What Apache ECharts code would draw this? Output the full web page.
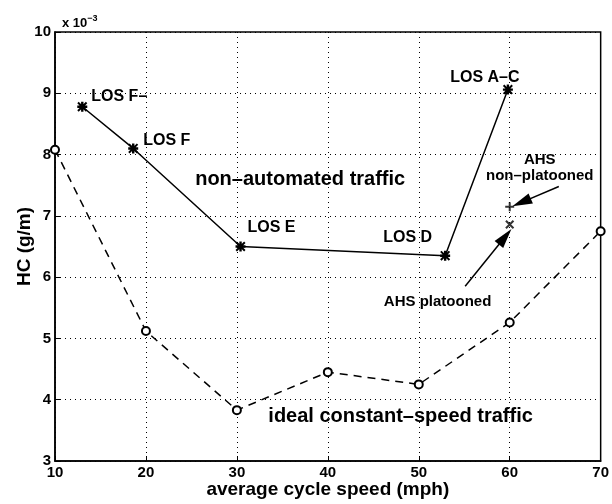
<!DOCTYPE html>
<html lang="en">
<head>
    <meta charset="UTF-8">
    <title>HC vs average cycle speed</title>
    <style>
        html, body { margin: 0; padding: 0; background: #fff; }
        #main { width: 612px; height: 504px; }
    </style>
</head>
<body>
    <div id="main"></div>
    <script src="https://cdn.jsdelivr.net/npm/echarts@6/dist/echarts.min.js"></script>
    <script>
        // data (HC in units of 1e-3 g/m)
        var speedIdeal = [10, 20, 30, 40, 50, 60, 70];
        var hcIdeal = [8.08, 5.12, 3.83, 4.45, 4.25, 5.26, 6.75];
        var speedManual = [13, 18.6, 30.4, 52.9, 59.8];
        var hcManual = [8.78, 8.10, 6.50, 6.35, 9.06];
        var losLabels = ['LOS F\u2013', 'LOS F', 'LOS E', 'LOS D', 'LOS A\u2013C'];
        var ahsSpeed = [60];
        var hcNonPlatooned = [7.15];
        var hcPlatooned = [6.86];

        var font = '"Liberation Sans", Arial, sans-serif';
        var pathStar = 'path://M3.8,0H6.2V10H3.8Z M0,3.8H10V6.2H0Z M0,1.4L1.4,0L10,8.6L8.6,10Z M8.6,0L10,1.4L1.4,10L0,8.6Z';
        var pathPlus = 'path://M3.9,0H6.1V10H3.9Z M0,3.9H10V6.1H0Z';
        var pathX = 'path://M0,1.6L1.6,0L10,8.4L8.4,10Z M8.4,0L10,1.6L1.6,10L0,8.4Z';

        // label placement per LOS point
        var losPos = [
            { position: 'right', distance: 4, offset: [0, -10] },
            { position: 'right', distance: 5, offset: [0, -8] },
            { position: 'right', distance: 2, offset: [0, -19] },
            { position: 'left', distance: 8, offset: [0, -18] },
            { position: 'top', distance: 0, offset: [-23, 1] }
        ];

        var manualData = speedManual.map(function (x, i) {
            return {
                value: [x, hcManual[i]],
                label: Object.assign({ show: true, formatter: losLabels[i] }, losPos[i])
            };
        });

        var bigText = { fontSize: 20, fontWeight: 'bold' };
        var smallText = { fontSize: 15, fontWeight: 'bold' };

        var myChart = echarts.init(document.getElementById('main'));
        var option = {
            animation: false,
            backgroundColor: '#fff',
            textStyle: { fontFamily: font, color: '#000' },
            title: {
                text: '{a|x 10}{b|\u22123}',
                left: 57, top: 9,
                textStyle: {
                    rich: {
                        a: { fontFamily: font, fontSize: 13, fontWeight: 'bold', color: '#000' },
                        b: { fontFamily: font, fontSize: 9, fontWeight: 'bold', color: '#000', verticalAlign: 'top', padding: [0, 0, 9, 0] }
                    }
                }
            },
            grid: {
                left: 55, right: 5, top: 32, bottom: 42,
                show: true, borderColor: '#000', borderWidth: 1.5
            },
            xAxis: {
                type: 'value', min: 10, max: 70, interval: 10,
                name: 'average cycle speed (mph)', nameLocation: 'middle', nameGap: 19,
                nameMoveOverlap: false,
                nameTextStyle: { fontSize: 19, fontWeight: 'bold', color: '#000', fontFamily: font },
                axisLine: { show: true, lineStyle: { color: '#000', width: 1.5 } },
                axisTick: { inside: true, length: 5, lineStyle: { color: '#000' } },
                axisLabel: { fontSize: 15, fontWeight: 'bold', color: '#000', margin: 4 },
                splitLine: { lineStyle: { type: [1, 4], color: '#000', width: 1 } }
            },
            yAxis: {
                type: 'value', min: 3, max: 10, interval: 1,
                name: 'HC (g/m)', nameLocation: 'middle', nameGap: 21,
                nameMoveOverlap: false,
                nameTextStyle: { fontSize: 19, fontWeight: 'bold', color: '#000', fontFamily: font },
                axisLine: { show: true, lineStyle: { color: '#000', width: 1.5 } },
                axisTick: { inside: true, length: 5, lineStyle: { color: '#000' } },
                axisLabel: { fontSize: 15, fontWeight: 'bold', color: '#000', margin: 4 },
                splitLine: { lineStyle: { type: [1, 4], color: '#000', width: 1 } }
            },
            series: [
                {
                    name: 'ideal',
                    type: 'line',
                    data: speedIdeal.map(function (x, i) { return [x, hcIdeal[i]]; }),
                    lineStyle: { color: '#000', width: 1.5, type: [8, 6] },
                    symbol: 'emptyCircle', symbolSize: 8, showAllSymbol: true,
                    itemStyle: { color: '#000', borderColor: '#000', borderWidth: 1.8 },
                    markPoint: {
                        symbol: 'circle', symbolSize: 0,
                        label: { show: true, color: '#000', fontFamily: font },
                        data: [
                            { coord: [48.0, 3.72], label: Object.assign({ formatter: 'ideal constant\u2013speed traffic' }, bigText) },
                            { coord: [36.96, 7.59], label: Object.assign({ formatter: 'non\u2013automated traffic' }, bigText) },
                            { coord: [63.3, 7.92], label: Object.assign({ formatter: 'AHS' }, smallText) },
                            { coord: [63.3, 7.66], label: Object.assign({ formatter: 'non\u2013platooned' }, smallText) },
                            { coord: [52.07, 5.60], label: Object.assign({ formatter: 'AHS platooned' }, smallText) }
                        ]
                    },
                    markLine: {
                        silent: true,
                        symbol: ['none', 'triangle'],
                        symbolSize: [11, 20],
                        lineStyle: { color: '#000', width: 1.5, type: 'solid' },
                        label: { show: false },
                        data: [
                            [{ coord: [65.4, 7.48] }, { coord: [61.3, 7.22] }],
                            [{ coord: [55.1, 5.85] }, { coord: [59.5, 6.66] }]
                        ]
                    },
                    z: 3
                },
                {
                    name: 'manual',
                    type: 'line',
                    data: manualData,
                    lineStyle: { color: '#000', width: 1.5 },
                    symbol: pathStar, symbolSize: 10,
                    itemStyle: { color: '#000' },
                    label: { color: '#000', fontFamily: font, fontSize: 16, fontWeight: 'bold' },
                    z: 4
                },
                {
                    name: 'AHS non-platooned',
                    type: 'scatter',
                    data: ahsSpeed.map(function (x, i) { return [x, hcNonPlatooned[i]]; }),
                    symbol: pathPlus, symbolSize: 9,
                    itemStyle: { color: '#000' }
                },
                {
                    name: 'AHS platooned',
                    type: 'scatter',
                    data: ahsSpeed.map(function (x, i) { return [x, hcPlatooned[i]]; }),
                    symbol: pathX, symbolSize: 9,
                    itemStyle: { color: '#000' }
                }
            ]
        };
        myChart.setOption(option);
    </script>
</body>
</html>
